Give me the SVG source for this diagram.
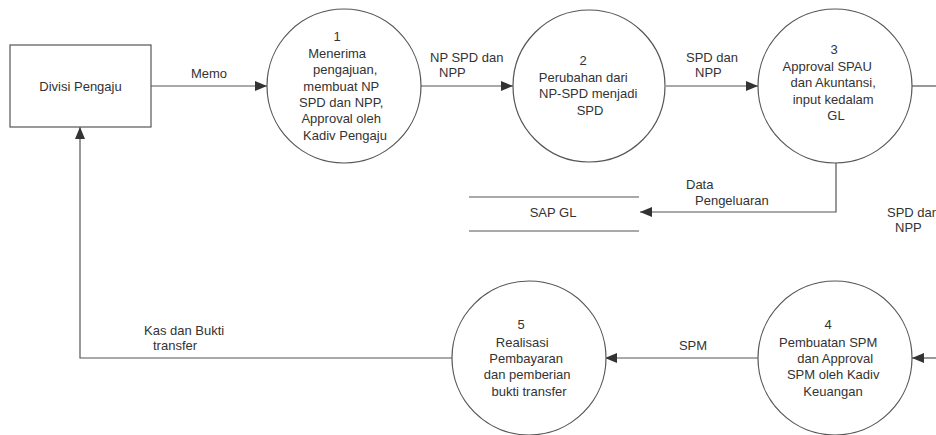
<svg xmlns="http://www.w3.org/2000/svg" width="936" height="435" viewBox="0 0 936 435">
  <defs>
    <marker id="arrow" viewBox="0 0 12 10" refX="12" refY="5" markerWidth="12" markerHeight="10" markerUnits="userSpaceOnUse" orient="auto">
      <path d="M0,0 L12,5 L0,10 z" fill="#333333"/>
    </marker>
    <style>
      .shape { fill: #ffffff; stroke: #555555; stroke-width: 1.2; }
      .flow { fill: none; stroke: #555555; stroke-width: 1.2; marker-end: url(#arrow); }
      .line { fill: none; stroke: #555555; stroke-width: 1.2; }
      text { font-family: "Liberation Sans", Arial, sans-serif; font-size: 13px; fill: #333333; }
      .c { text-anchor: middle; }
    </style>
  </defs>
  <rect width="936" height="435" fill="#ffffff"/>

  <!-- connectors -->
  <g id="connectors">
    <line class="flow" x1="151" y1="86" x2="267" y2="86"/>
    <line class="flow" x1="421" y1="86" x2="513" y2="86"/>
    <line class="flow" x1="666" y1="86" x2="758" y2="86"/>
    <line class="line" x1="912" y1="86" x2="936" y2="86"/>
    <polyline class="flow" points="836,163 836,212 640,212"/>
    <line class="flow" x1="936" y1="358" x2="912" y2="358"/>
    <line class="flow" x1="758" y1="358" x2="605" y2="358"/>
    <polyline class="flow" points="452,358 80,358 80,127"/>
  </g>

  <!-- flow labels -->
  <g id="labels">
    <text class="c" x="209" y="78">Memo</text>
    <text x="430" y="62">NP SPD dan</text>
    <text x="439" y="77">NPP</text>
    <text x="686" y="62">SPD dan</text>
    <text x="695" y="77">NPP</text>
    <text x="686" y="189">Data</text>
    <text x="695" y="205">Pengeluaran</text>
    <text x="887" y="217">SPD dan</text>
    <text x="895" y="232">NPP</text>
    <text x="144" y="335">Kas dan Bukti</text>
    <text x="153" y="350">transfer</text>
    <text class="c" x="693" y="350">SPM</text>
  </g>

  <!-- external entity -->
  <g id="divisi-pengaju">
    <rect class="shape" x="10" y="45" width="141" height="82"/>
    <text class="c" x="80.5" y="91">Divisi Pengaju</text>
  </g>

  <!-- process 1 -->
  <g id="proses-1">
    <circle class="shape" cx="344" cy="86" r="77"/>
    <text class="c">
      <tspan x="339" y="41">1</tspan>
      <tspan x="339" y="58">Menerima</tspan>
      <tspan x="347" y="74">pengajuan,</tspan>
      <tspan x="343" y="91">membuat NP</tspan>
      <tspan x="343" y="107">SPD dan NPP,</tspan>
      <tspan x="343" y="123">Approval oleh</tspan>
      <tspan x="345" y="140">Kadiv Pengaju</tspan>
    </text>
  </g>

  <!-- process 2 -->
  <g id="proses-2">
    <circle class="shape" cx="589" cy="86" r="76"/>
    <text class="c">
      <tspan x="585" y="65">2</tspan>
      <tspan x="585" y="82">Perubahan dari</tspan>
      <tspan x="590" y="98">NP-SPD menjadi</tspan>
      <tspan x="590" y="115">SPD</tspan>
    </text>
  </g>

  <!-- process 3 -->
  <g id="proses-3">
    <circle class="shape" cx="835" cy="86" r="77"/>
    <text class="c">
      <tspan x="836" y="54">3</tspan>
      <tspan x="829" y="71">Approval SPAU</tspan>
      <tspan x="835" y="87">dan Akuntansi,</tspan>
      <tspan x="835" y="104">input kedalam</tspan>
      <tspan x="836" y="120">GL</tspan>
    </text>
  </g>

  <!-- data store -->
  <g id="sap-gl">
    <line class="line" x1="469" y1="197" x2="639" y2="197"/>
    <line class="line" x1="469" y1="231" x2="639" y2="231"/>
    <text class="c" x="553" y="217">SAP GL</text>
  </g>

  <!-- process 4 -->
  <g id="proses-4">
    <circle class="shape" cx="835" cy="358" r="77"/>
    <text class="c">
      <tspan x="830" y="329">4</tspan>
      <tspan x="830" y="347">Pembuatan SPM</tspan>
      <tspan x="837" y="363">dan Approval</tspan>
      <tspan x="835" y="379">SPM oleh Kadiv</tspan>
      <tspan x="833" y="396">Keuangan</tspan>
    </text>
  </g>

  <!-- process 5 -->
  <g id="proses-5">
    <circle class="shape" cx="529" cy="358" r="77"/>
    <text class="c">
      <tspan x="523" y="329">5</tspan>
      <tspan x="524" y="347">Realisasi</tspan>
      <tspan x="528" y="363">Pembayaran</tspan>
      <tspan x="529" y="379">dan pemberian</tspan>
      <tspan x="529" y="396">bukti transfer</tspan>
    </text>
  </g>
</svg>
